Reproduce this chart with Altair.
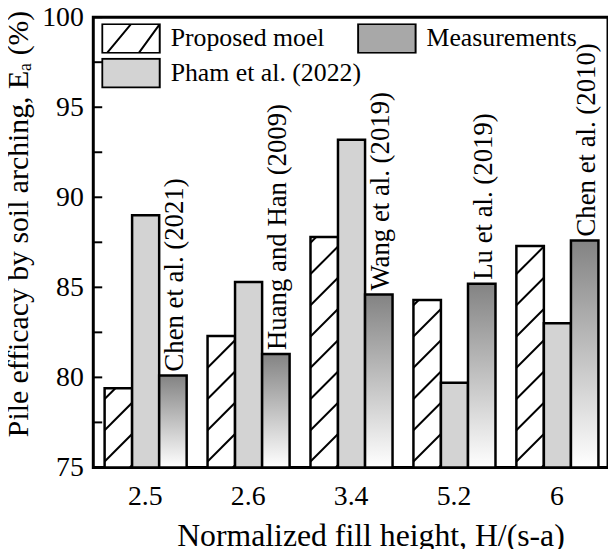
import json
import math
import altair as alt
import pandas as pd

# ---------------- data ----------------
categories = ["2.5", "2.6", "3.4", "5.2", "6"]
proposed = [79.4, 82.3, 87.8, 84.3, 87.3]
pham = [89.0, 85.3, 93.2, 79.7, 83.0]
measured = [80.1, 81.3, 84.6, 85.2, 87.6]
sources = ["Chen et al. (2021)", "Huang and Han (2009)", "Wang et al. (2019)",
           "Lu et al. (2019)", "Chen et al. (2010)"]
series = ["Proposed moel", "Pham et al. (2022)", "Measurements"]
y_ticks = [75, 77.5, 80, 82.5, 85, 87.5, 90, 92.5, 95, 97.5, 100]
y_labels = [75, 80, 85, 90, 95, 100]

# ---------------- layout constants ----------------
W, H = 519, 454
XMIN, XMAX = 0, len(categories)
YMIN, YMAX = 75, 100
OFFS = [(-0.39, -0.123), (-0.123, 0.14), (0.14, 0.407)]
FONT = "serif"

xscale = alt.Scale(domain=[XMIN, XMAX], nice=False, zero=False)
yscale = alt.Scale(domain=[YMIN, YMAX], nice=False, zero=False)

rows = []
for s_idx, (name, vals) in enumerate(zip(series, [proposed, pham, measured])):
    for i, v in enumerate(vals):
        c = i + 0.5
        rows.append(dict(series=name, cat=categories[i], x0=c + OFFS[s_idx][0],
                         x1=c + OFFS[s_idx][1], value=v, base=YMIN))
bars = pd.DataFrame(rows)

# hatch segments for the proposed-model bars (45 degree lines, clipped to bar)
pxx = W / (XMAX - XMIN)
pxy = H / (YMAX - YMIN)
period, phase = 31.5, 6.0
hrows = []
for i, v in enumerate(proposed):
    x0 = i + 0.5 + OFFS[0][0]
    x1 = i + 0.5 + OFFS[0][1]
    w = (x1 - x0) * pxx
    h = (v - YMIN) * pxy
    k = -int(math.ceil(w / period)) - 1
    while True:
        cc = phase + k * period
        if cc > h:
            break
        u0 = max(0.0, -cc)
        u1 = min(w, h - cc)
        if u1 > u0:
            hrows.append(dict(x0=x0 + u0 / pxx, x1=x0 + u1 / pxx,
                              value=YMIN + (u0 + cc) / pxy, base=YMIN + (u1 + cc) / pxy))
        k += 1
hatch = pd.DataFrame(hrows)

ann = pd.DataFrame(dict(src=sources, value=measured,
                        x0=[i + 0.5 + (OFFS[2][0] + OFFS[2][1]) / 2 for i in range(len(categories))]))
ticks_df = pd.DataFrame(dict(value=y_ticks))
leg_df = pd.DataFrame(dict(series=series, x0=[1.0, 2.0, 3.0], value=[80, 80, 80]))

label_expr = json.dumps(categories) + "[floor(datum.value)]"

x_axis = alt.Axis(values=[i + 0.5 for i in range(len(categories))], labelExpr=label_expr,
                  ticks=False, domain=False, grid=False, labelFontSize=28, labelPadding=15,
                  labelFlush=False, labelOverlap=False, labelAngle=0, labelColor="black",
                  title="Normalized fill height, H/(s-a)", titleFontSize=32, titleFontWeight="normal",
                  titleColor="black", titleX=279.5, titleY=79, titleBaseline="alphabetic",
                  titleAlign="center", labelFont=FONT, titleFont=FONT)
y_axis = alt.Axis(values=y_labels, ticks=False, domain=False, grid=False, labelFontSize=28,
                  labelPadding=10, labelColor="black", labelFont=FONT, titleFont=FONT,
                  title="Pile efficacy by soil arching, Eₐ (%)", titleFontSize=30,
                  titleFontWeight="normal", titleColor="black", titleX=-66, titleY=208,
                  titleAngle=270, titleAlign="center", titleBaseline="alphabetic")

X = alt.X("x0:Q", scale=xscale, axis=x_axis)
Y = alt.Y("value:Q", scale=yscale, axis=y_axis)

base = alt.Chart(bars)

prop_layer = base.transform_filter(alt.datum.series == series[0]).mark_rect(
    fill="white", stroke="black", strokeWidth=2.5).encode(x=X, x2="x1:Q", y=Y, y2="base:Q")

hatch_layer = alt.Chart(hatch).mark_rule(color="black", strokeWidth=2).encode(
    x=X, x2="x1:Q", y=Y, y2="base:Q")

pham_layer = base.transform_filter(alt.datum.series == series[1]).mark_rect(
    fill="#d3d3d3", stroke="black", strokeWidth=2.5).encode(x=X, x2="x1:Q", y=Y, y2="base:Q")

grad = alt.LinearGradient(gradient="linear", x1=0, x2=0, y1=0, y2=1,
                          stops=[alt.GradientStop(color="#838383", offset=0),
                                 alt.GradientStop(color="#ffffff", offset=1)])
meas_layer = base.transform_filter(alt.datum.series == series[2]).mark_rect(
    fill=grad, stroke="black", strokeWidth=2.5).encode(x=X, x2="x1:Q", y=Y, y2="base:Q")

text_layer = alt.Chart(ann).mark_text(angle=270, align="left", baseline="middle", dx=4, dy=2,
                                      fontSize=27, font=FONT, color="black").encode(
    x=X, y=Y, text="src:N")

tick_layer = alt.Chart(ticks_df).mark_rule(color="black", strokeWidth=2).encode(
    x=alt.value(0), x2=alt.value(9), y=Y)

path_hatch = "M-1,-1H3V1H-1Z M-0.66,1L1,-1 M1.55,1L3,-1"
path_box = "M-1,-1H3V1H-1Z"
legend = alt.Legend(title=None, orient="none", legendX=8, legendY=6, columns=2, gridAlign="none",
                    columnPadding=-5, rowPadding=4, symbolStrokeColor="black", symbolStrokeWidth=2,
                    symbolOpacity=1, symbolSize=841, labelFontSize=26, labelOffset=39,
                    clipHeight=31, symbolOffset=0, padding=0, labelFont=FONT, labelColor="black",
                    labelLimit=0)
legend_layer = alt.Chart(leg_df).mark_point(filled=False, opacity=0, size=841,
                                            strokeWidth=2).encode(
    x=X, y=Y,
    shape=alt.Shape("series:N", scale=alt.Scale(domain=series,
                                                 range=[path_hatch, path_box, path_box]),
                    legend=legend),
    fill=alt.Fill("series:N", scale=alt.Scale(domain=series,
                                               range=["white", "#d3d3d3", "#a8a8a8"]),
                  legend=legend),
    stroke=alt.Stroke("series:N", scale=alt.Scale(domain=series,
                                                   range=["black", "black", "black"]),
                      legend=legend))

chart = alt.layer(prop_layer, hatch_layer, pham_layer, meas_layer, text_layer, tick_layer,
                  legend_layer).properties(
    width=W, height=H,
    autosize=alt.AutoSizeParams(type="none"),
    padding={"left": 86, "top": 7, "right": 0, "bottom": 80},
).configure_view(stroke="black", strokeWidth=3)

chart.save("out.html", embed_options={"renderer": "svg", "actions": False})
